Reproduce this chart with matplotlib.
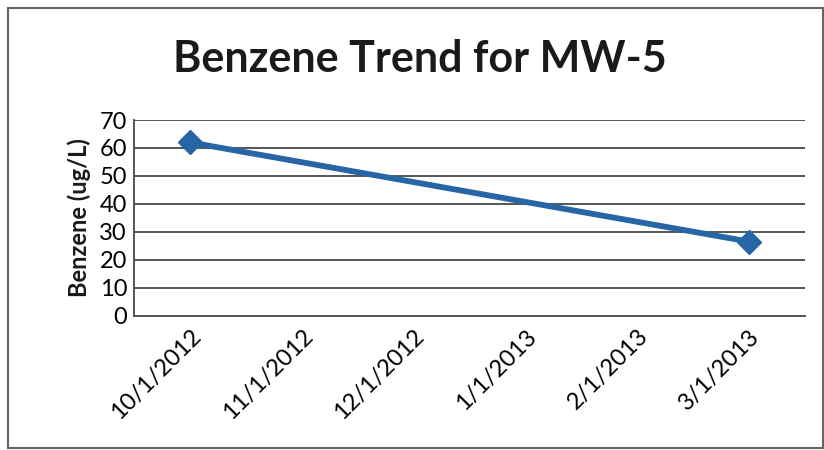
import matplotlib
matplotlib.use('Agg')
import matplotlib.pyplot as plt
import matplotlib.patches as mpatches

months = ['10/1/2012', '11/1/2012', '12/1/2012', '1/1/2013', '2/1/2013', '3/1/2013']
sample_dates = ['10/1/2012', '3/1/2013']
benzene = [62, 26.5]
yticks = [0, 10, 20, 30, 40, 50, 60, 70]

plt.rcParams['font.family'] = ['Lato', 'DejaVu Sans']

fig = plt.figure(figsize=(8.24, 4.5), dpi=100)
ax = fig.add_axes([0.1626, 0.2984, 0.8144, 0.4349])

x = [months.index(d) for d in sample_dates]
ax.plot(x, benzene, color='#2665a6', lw=4.2, marker='D', markersize=12,
        markeredgecolor='#2665a6', zorder=3)

ax.set_xlim(-0.5, len(months) - 0.5)
ax.set_ylim(0, 70)
ax.set_yticks(yticks)
ax.set_xticks(range(len(months)))
ax.set_xticklabels(months, rotation=45, ha='right', rotation_mode='anchor', fontsize=17)
ax.tick_params(axis='y', labelsize=17, length=0, pad=5)
ax.tick_params(axis='x', length=0, pad=7)
ax.grid(axis='y', color='#555555', lw=1.4)
ax.set_axisbelow(True)
for s in ['top', 'right']:
    ax.spines[s].set_visible(False)
ax.spines['left'].set_color('#555555')
ax.spines['left'].set_linewidth(1.4)
ax.spines['bottom'].set_color('#555555')
ax.spines['bottom'].set_linewidth(1.4)

ax.set_ylabel('Benzene (ug/L)', fontsize=17, fontweight='bold', labelpad=6, color='#1a1a1a')
fig.text(0.510, 0.868, 'Benzene Trend for MW-5', fontsize=31, fontweight='bold',
         ha='center', va='center', color='#1a1a1a')

fig.patches.append(mpatches.Rectangle((8 / 824, 2 / 450), 815 / 824, 440 / 450,
                                      transform=fig.transFigure, fill=False,
                                      edgecolor='#666666', lw=1.5))

fig.savefig('out.png', dpi=100)
